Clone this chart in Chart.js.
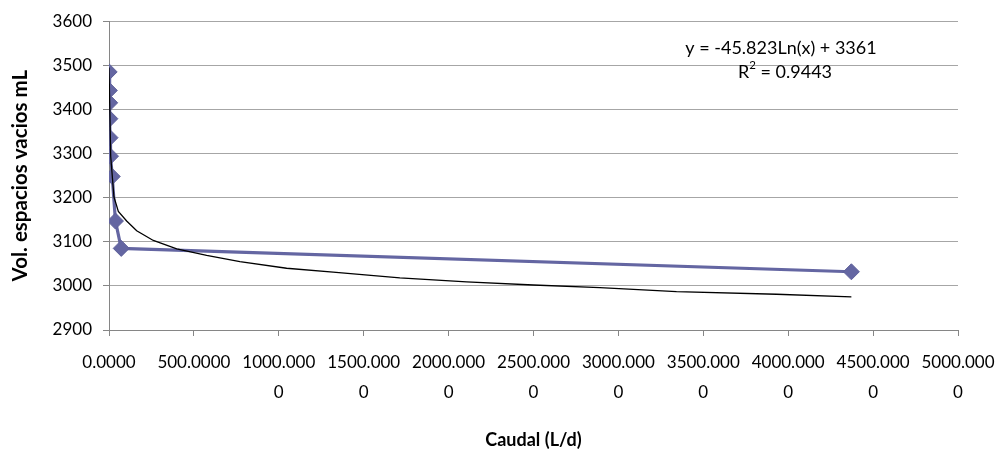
<!DOCTYPE html>
<html>
<head>
<meta charset="utf-8">
<script src="https://cdn.jsdelivr.net/npm/chart.js@4/dist/chart.umd.min.js"></script>
<style>
  html, body { margin: 0; padding: 0; background: #fff; }
  #wrap { width: 999px; height: 452px; }
</style>
</head>
<body>
<div id="wrap"><canvas id="c" width="999" height="452"></canvas></div>
<script>
// Measured series (Caudal L/d vs Vol. espacios vacios mL)
const caudal = [1, 2, 4, 5, 6, 9, 19, 38, 72, 4372];
const volumen = [3485, 3443, 3415, 3379, 3336, 3294, 3248, 3147, 3085, 3032];

// Logarithmic trend line
const trendX = [0.05, 10, 29, 55, 104, 163, 261, 399, 575, 771, 1046, 1320, 1713, 2106, 2499, 2891, 3342, 3931, 4372];
const trendY = [3495, 3294, 3202, 3169, 3147, 3125, 3103, 3084, 3069, 3055, 3040, 3031, 3018, 3009, 3002, 2996, 2987, 2981, 2975];

const yTicks = [2900, 3000, 3100, 3200, 3300, 3400, 3500, 3600];
const xTicks = [0, 500, 1000, 1500, 2000, 2500, 3000, 3500, 4000, 4500, 5000];

const equationText = 'y = -45.823Ln(x) + 3361';
const r2Value = '0.9443';

const seriesPoints = caudal.map((x, i) => ({ x: x, y: volumen[i] }));
const trendPoints = trendX.map((x, i) => ({ x: x, y: trendY[i] }));

const FONT = 'Lato, "Open Sans", "Liberation Sans", sans-serif';

const equationPlugin = {
  id: 'equation',
  afterDraw(chart) {
    const ctx = chart.ctx;
    ctx.save();
    ctx.fillStyle = '#000';
    ctx.textBaseline = 'middle';
    ctx.font = '18px ' + FONT;
    ctx.textAlign = 'center';
    ctx.fillText(equationText, 781, 48);
    // R² = ...
    const a = 'R', b = ' = ' + r2Value;
    const wa = ctx.measureText(a).width, wb = ctx.measureText(b).width;
    ctx.font = '11.5px ' + FONT;
    const ws = ctx.measureText('2').width;
    const total = wa + ws + wb;
    const x0 = 785 - total / 2;
    ctx.textAlign = 'left';
    ctx.font = '18px ' + FONT;
    ctx.fillText(a, x0, 72);
    ctx.font = '11.5px ' + FONT;
    ctx.fillText('2', x0 + wa, 65.5);
    ctx.font = '18px ' + FONT;
    ctx.fillText(b, x0 + wa + ws, 72);
    ctx.restore();
  }
};

new Chart(document.getElementById('c'), {
  type: 'scatter',
  data: {
    datasets: [
      {
        label: 'Log. trend',
        data: trendPoints,
        showLine: true,
        borderColor: '#000000',
        borderWidth: 1.3,
        pointRadius: 0,
        tension: 0,
        fill: false
      },
      {
        label: 'Vol. espacios vacios',
        data: seriesPoints,
        showLine: true,
        borderColor: '#6466A2',
        backgroundColor: '#6466A2',
        borderWidth: 3.2,
        pointStyle: 'rectRot',
        pointRadius: 8,
        pointBorderWidth: 1,
        pointBorderColor: '#5E609A',
        pointBackgroundColor: '#6466A2',
        tension: 0,
        fill: false
      }
    ]
  },
  options: {
    responsive: false,
    animation: false,
    devicePixelRatio: 1,
    layout: { padding: { top: 13, right: 41, left: 0, bottom: 0 } },
    plugins: {
      legend: { display: false },
      tooltip: { enabled: false }
    },
    scales: {
      x: {
        type: 'linear',
        min: 0,
        max: 5000,
        afterBuildTicks(scale) { scale.ticks = xTicks.map(v => ({ value: v })); },
        afterFit(scale) {
          scale.height = 122;
          scale.paddingLeft = 0;
          scale.paddingRight = 0;
        },
        ticks: {
          autoSkip: false,
          maxRotation: 0,
          minRotation: 0,
          padding: 12,
          color: '#000',
          font: { family: FONT, size: 17, lineHeight: 1.75 },
          callback(v) {
            const s = Number(v).toFixed(4);
            return s.length > 8 ? [s.slice(0, 8), s.slice(8)] : s;
          }
        },
        grid: {
          drawOnChartArea: false,
          drawTicks: true,
          tickLength: 6,
          color: '#868686'
        },
        border: { display: true, color: '#868686', width: 1 },
        title: {
          display: true,
          text: 'Caudal (L/d)',
          color: '#000',
          font: { family: FONT, size: 18, weight: 'bold' },
          padding: { top: 0, bottom: 1.2 }
        }
      },
      y: {
        type: 'linear',
        min: 2900,
        max: 3600,
        afterBuildTicks(scale) { scale.ticks = yTicks.map(v => ({ value: v })); },
        afterFit(scale) { scale.width = 109; },
        ticks: {
          padding: 11,
          color: '#000',
          font: { family: FONT, size: 17 },
          callback(v) { return String(v); }
        },
        grid: {
          color: '#A6A6A6',
          tickColor: '#868686',
          drawTicks: true,
          tickLength: 6
        },
        border: { display: true, color: '#868686', width: 1 },
        title: {
          display: true,
          text: 'Vol. espacios vacios mL',
          color: '#000',
          font: { family: FONT, size: 20.5, weight: 'bold' },
          padding: { top: 7.7, bottom: 0 }
        }
      }
    }
  },
  plugins: [equationPlugin]
});
</script>
</body>
</html>
